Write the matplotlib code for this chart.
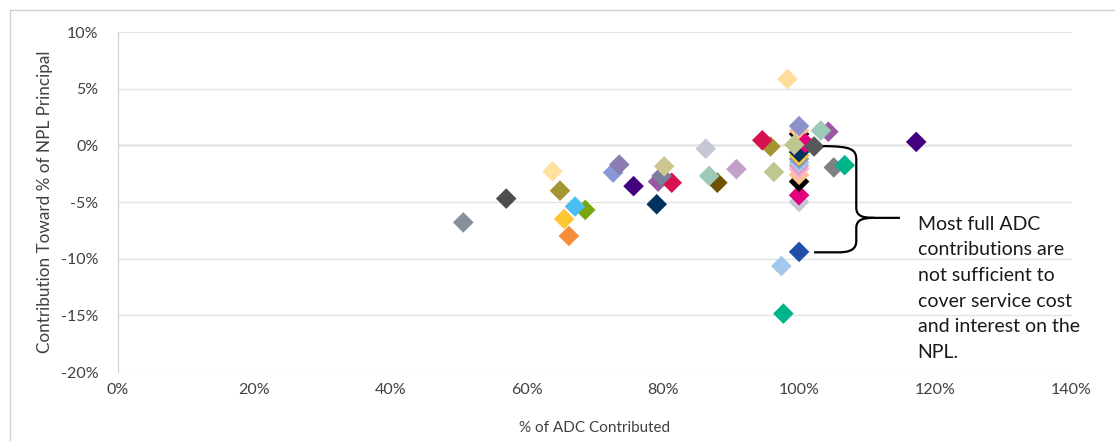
import numpy as np
import matplotlib
matplotlib.use("Agg")
import matplotlib.pyplot as plt
from matplotlib.path import Path
from matplotlib.patches import PathPatch
from matplotlib.lines import Line2D
from matplotlib.ticker import FuncFormatter, MultipleLocator

plt.rcParams['font.family'] = ['Lato', 'DejaVu Sans']

# % of ADC contributed vs. contribution toward % of NPL principal, one loan per point
adc_pct = [50.7, 57.0, 63.8, 64.9, 66.2, 65.5, 68.6, 67.1,
           72.7, 73.6, 75.7, 79.1, 79.3, 81.3, 79.8, 80.2,
           86.3, 88.0, 86.8, 90.8, 95.8, 94.6, 96.3, 98.3,
           104.3, 103.2, 105.1, 106.7, 117.2,
           100.0, 100.0, 100.0, 100.0, 100.0, 100.0, 100.0, 100.0, 100.0, 100.0,
           100.0, 100.0, 100.0, 100.9, 99.3, 102.2,
           100.0, 97.4, 97.7]
npl_pct = [-6.8, -4.7, -2.3, -4.0, -8.0, -6.5, -5.7, -5.4,
           -2.4, -1.7, -3.6, -5.2, -3.2, -3.3, -2.7, -1.85,
           -0.3, -3.3, -2.7, -2.1, -0.1, 0.45, -2.35, 5.85,
           1.2, 1.3, -1.95, -1.75, 0.3,
           -5.0, -4.4, -3.2, -2.6, -2.1, -1.8, -1.5, -1.2, -0.9, -0.6,
           1.0, 1.3, 1.7, 0.2, 0.05, -0.1,
           -9.4, -10.65, -14.85]
colors = ['#878e9c', '#4d4d4f', '#ffe09c', '#a39531', '#f68d3b', '#ffc633', '#79a80c', '#49bff2',
          '#8898d4', '#8b7db1', '#43007f', '#003260', '#9d58a4', '#d6134f', '#7b809e', '#cfc590',
          '#c4c8d5', '#705300', '#9dc9b8', '#c2a0c9', '#a39531', '#d6134f', '#bfc791', '#ffdd9a',
          '#9d58a4', '#9dc9b8', '#808080', '#00b48c', '#43007f',
          '#c4c8d5', '#e2007d', '#000000', '#fdc192', '#f2b6d0', '#e79bc4', '#a5c9ee', '#8797b8', '#ffc633', '#003260',
          '#000000', '#fdc192', '#8c93cc', '#e2007d', '#bfc791', '#58585a',
          '#1f4fa7', '#a2c8ec', '#00b48c']

note = "Most full ADC\ncontributions are\nnot sufficient to\ncover service cost\nand interest on the\nNPL."

fig = plt.figure(figsize=(11.15, 4.41), dpi=100)
ax = fig.add_axes([118 / 1115, 1 - 372 / 441, (1071.5 - 118) / 1115, (372 - 32) / 441])

ax.scatter(adc_pct, npl_pct, s=110, marker='D', c=colors, linewidths=0, zorder=3)

ax.set_xlim(0, 140)
ax.set_ylim(-20, 10)
ax.xaxis.set_major_locator(MultipleLocator(20))
ax.yaxis.set_major_locator(MultipleLocator(5))
pct = FuncFormatter(lambda v, _: f"{v:.0f}%")
ax.xaxis.set_major_formatter(pct)
ax.yaxis.set_major_formatter(pct)

ax.grid(axis='y', color='#e3e3e3', lw=1, zorder=0)
ax.axhline(0, color='#a6a6a6', lw=1, zorder=1)
for s in ['top', 'right', 'bottom']:
    ax.spines[s].set_visible(False)
ax.spines['left'].set_color('#d0d0d0')
ax.tick_params(length=0, labelsize=11.5, labelcolor='#404040')
ax.tick_params(axis='y', pad=14)
ax.tick_params(axis='x', pad=8)

ax.set_xlabel("% of ADC Contributed", fontsize=11, color='#404040', labelpad=17)
ax.set_ylabel("Contribution Toward % of NPL Principal", fontsize=12.3, color='#404040', labelpad=6)

# curly brace from the full-ADC cluster down to the -9% point
xs, xt = 108.4, 114.8
y_top, y_tip, y_bot = -0.07, -6.4, -9.44
verts = [(103.5, y_top), (xs - 0.7, y_top), (xs, y_top - 0.3), (xs, y_top - 1.2),
         (xs, y_tip + 0.9),
         (xs, y_tip + 0.2), (xs + 0.8, y_tip), (xs + 2.6, y_tip),
         (xt, y_tip),
         (xs + 2.6, y_tip),
         (xs + 0.8, y_tip), (xs, y_tip - 0.2), (xs, y_tip - 0.9),
         (xs, y_bot + 1.0),
         (xs, y_bot + 0.3), (xs - 0.8, y_bot), (xs - 2.6, y_bot),
         (102.2, y_bot)]
codes = [Path.MOVETO, Path.CURVE4, Path.CURVE4, Path.CURVE4,
         Path.LINETO,
         Path.CURVE4, Path.CURVE4, Path.CURVE4,
         Path.LINETO,
         Path.MOVETO,
         Path.CURVE4, Path.CURVE4, Path.CURVE4,
         Path.LINETO,
         Path.CURVE4, Path.CURVE4, Path.CURVE4,
         Path.LINETO]
ax.add_patch(PathPatch(Path(verts, codes), fill=False, lw=1.6, color='black', zorder=4, clip_on=False))

ax.text(117.4, -6.2, note, fontsize=14, color='#1a1a1a', va='top', ha='left',
        linespacing=1.62, zorder=5)

# outer frame, top and left edges
fig.add_artist(Line2D([10 / 1115, 1.0], [1 - 10 / 441] * 2, color='#d0d0d0', lw=1))
fig.add_artist(Line2D([10 / 1115] * 2, [0.0, 1 - 10 / 441], color='#d0d0d0', lw=1))

fig.savefig("out.png", dpi=100)
